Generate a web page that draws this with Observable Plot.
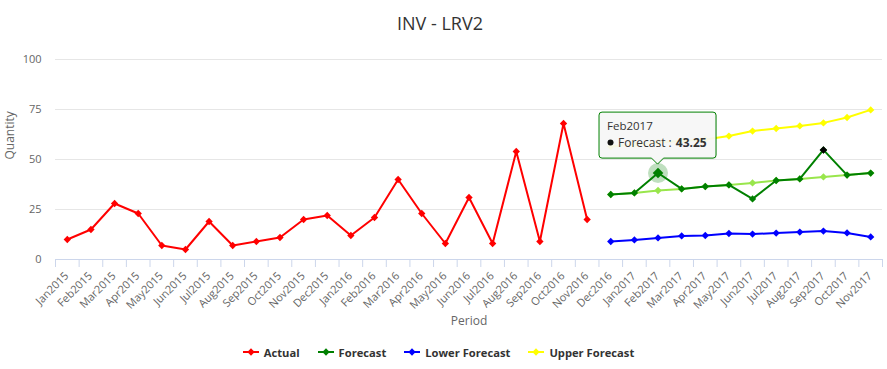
<!DOCTYPE html>
<html>
<head>
<meta charset="utf-8">
<script src="https://cdn.jsdelivr.net/npm/d3@7"></script>
<script src="https://cdn.jsdelivr.net/npm/@observablehq/plot@0.6"></script>
<style>
  html, body { margin: 0; padding: 0; background: #fff; }
  #wrap { position: relative; width: 887px; height: 369px; overflow: hidden; font-family: "Open Sans", sans-serif; }
  #title { position: absolute; left: 0; top: 0; width: 880px; height: 45px; text-align: center; font-size: 18px; line-height: 22px; padding-top: 12px; box-sizing: border-box; color: #333; }
  #chart { position: absolute; left: 0; top: 45px; }
  #legend { position: absolute; left: 0; top: 335px; width: 877px; height: 34px; display: flex; justify-content: center; align-items: center; gap: 18px; font-size: 11.2px; font-weight: bold; color: #333; }
  .item { display: flex; align-items: center; gap: 5px; }
</style>
</head>
<body>
<div id="wrap">
  <div id="title">INV - LRV2</div>
  <div id="chart"></div>
  <div id="legend"></div>
</div>
<script>
// ---- data ----
const categories = ["Jan2015","Feb2015","Mar2015","Apr2015","May2015","Jun2015","Jul2015","Aug2015","Sep2015","Oct2015","Nov2015","Dec2015",
  "Jan2016","Feb2016","Mar2016","Apr2016","May2016","Jun2016","Jul2016","Aug2016","Sep2016","Oct2016","Nov2016","Dec2016",
  "Jan2017","Feb2017","Mar2017","Apr2017","May2017","Jun2017","Jul2017","Aug2017","Sep2017","Oct2017","Nov2017"];
const actual = [10,15,28,23,7,5,19,7,9,11,20,22,12,21,40,23,8,31,8,54,9,68,20];           // Jan2015..Nov2016
const forecastStart = "Dec2016";
const forecast = [32.5,33.3,43.25,35.3,36.5,37.3,30.3,39.5,40.3,54.8,42.2,43.2];           // Dec2016..Nov2017
const lowerForecast = [9,9.8,10.8,11.8,12,13,12.7,13.2,13.7,14.2,13.3,11.3];
const upperForecast = [56.5,57.5,58.5,59.2,60,61.7,64.2,65.5,66.8,68.3,71,74.8];
const trend = [32.5,33.3,34.5,35.3,36.5,37.3,38.3,39.5,40.3,41.3,42.2,43.2];
const yTicks = [0,25,50,75,100];
const seriesNames = ["Actual","Forecast","Lower Forecast","Upper Forecast"];
const hoverCategory = "Feb2017";
const blackCategory = "Sep2017";

// ---- styles ----
const colors = {"Actual":"#ff0000","Forecast":"#008000","Lower Forecast":"#0000ff","Upper Forecast":"#ffff00","Trend":"#99e64c"};

const start = categories.indexOf(forecastStart);
function rows(name, vals, offset) {
  return vals.map((v, k) => ({series: name, i: offset + k, cat: categories[offset + k], v}));
}
const actualRows = rows("Actual", actual, 0);
const fRows = rows("Forecast", forecast, start);
const lRows = rows("Lower Forecast", lowerForecast, start);
const uRows = rows("Upper Forecast", upperForecast, start);
const tRows = rows("Trend", trend, start);
const boundaries = d3.range(categories.length + 1).map(i => i - 0.5);

function seriesMarks(data, color) {
  return [
    Plot.line(data, {x: "i", y: "v", stroke: color, strokeWidth: 2}),
    Plot.dot(data, {x: "i", y: "v", symbol: "diamond2", r: 3.3, fill: color, stroke: null})
  ];
}
const hoverRow = fRows.filter(d => d.cat === hoverCategory);
const blackRow = fRows.filter(d => d.cat === blackCategory);

const chart = Plot.plot({
  width: 887, height: 290,
  marginLeft: 55, marginRight: 5, marginTop: 14, marginBottom: 76,
  style: {fontFamily: "'Open Sans', sans-serif", background: "transparent", color: "#666", overflow: "visible"},
  x: {type: "linear", domain: [-0.5, categories.length - 0.5], axis: null},
  y: {domain: [0, 100], axis: null},
  marks: [
    Plot.gridY(yTicks, {stroke: "#e6e6e6", strokeOpacity: 1, strokeWidth: 1}),
    Plot.axisY(yTicks, {tickSize: 0, tickPadding: 14, fontSize: 11, label: null}),
    Plot.ruleY([0], {stroke: "#ccd6eb"}),
    Plot.ruleX(boundaries, {x: d => d, y1: 0, y2: -4, stroke: "#ccd6eb"}),
    Plot.text(categories, {x: (d, i) => i, frameAnchor: "bottom", dy: 17, dx: 2, rotate: -45, textAnchor: "end", lineAnchor: "bottom", fontSize: 11, fill: "#666"}),
    Plot.text(["Period"], {frameAnchor: "bottom", dy: 65, lineAnchor: "bottom", fontSize: 12, fill: "#666"}),
    Plot.text(["Quantity"], {frameAnchor: "left", dx: -42, rotate: -90, lineAnchor: "bottom", fontSize: 12, fill: "#666"}),
    ...seriesMarks(tRows, colors["Trend"]),
    ...seriesMarks(actualRows, colors["Actual"]),
    ...seriesMarks(fRows, colors["Forecast"]),
    ...seriesMarks(lRows, colors["Lower Forecast"]),
    ...seriesMarks(uRows, colors["Upper Forecast"]),
    Plot.dot(blackRow, {x: "i", y: "v", symbol: "diamond2", r: 3.4, fill: "#000"}),
    Plot.dot(hoverRow, {x: "i", y: "v", r: 10, fill: colors["Forecast"], fillOpacity: 0.25}),
    Plot.dot(hoverRow, {x: "i", y: "v", symbol: "diamond2", r: 4.8, fill: colors["Forecast"]})
  ]
});
document.getElementById("chart").appendChild(chart);

// ---- tooltip anchored to hovered point via scales ----
const h = hoverRow[0];
const px = chart.scale("x").apply(h.i), py = chart.scale("y").apply(h.v);
const bw = 117, bh = 46, r = 3;
const bl = px - bw / 2, br = px + bw / 2, bb = py - 14.4, bt = bb - bh, tip = py - 8.4;
const svg = d3.select(chart);
const g = svg.append("g").attr("text-anchor", "start");
const path = `M${bl + r},${bt} L${br - r},${bt} Q${br},${bt} ${br},${bt + r} L${br},${bb - r} Q${br},${bb} ${br - r},${bb} L${px + 6},${bb} L${px},${tip} L${px - 6},${bb} L${bl + r},${bb} Q${bl},${bb} ${bl},${bb - r} L${bl},${bt + r} Q${bl},${bt} ${bl + r},${bt} Z`;
g.append("path").attr("d", path).attr("fill", "rgba(0,0,0,0.06)").attr("transform", "translate(1,1)");
g.append("path").attr("d", path).attr("fill", "rgba(247,247,247,0.92)").attr("stroke", colors["Forecast"]).attr("stroke-width", 1);
g.append("text").attr("x", bl + 8).attr("y", bt + 18).attr("text-anchor", "start").attr("font-size", 11.5).attr("fill", "#333").text(h.cat);
g.append("circle").attr("cx", bl + 11.5).attr("cy", bt + 30.5).attr("r", 3).attr("fill", "#111");
const lab = g.append("text").attr("x", bl + 19).attr("y", bt + 34.5).attr("text-anchor", "start").attr("font-size", 12).attr("fill", "#333").text(h.series + " :");
const lw = lab.node().getComputedTextLength();
g.append("text").attr("x", bl + 19 + lw + 4).attr("y", bt + 34.5).attr("text-anchor", "start").attr("font-size", 12).attr("font-weight", "bold").attr("fill", "#333").text(h.v.toFixed(2));

// ---- legend ----
const legend = d3.select("#legend");
for (const name of seriesNames) {
  const it = legend.append("div").attr("class", "item");
  const s = it.append("svg").attr("width", 16).attr("height", 12);
  s.append("line").attr("x1", 0).attr("x2", 16).attr("y1", 6).attr("y2", 6).attr("stroke", colors[name]).attr("stroke-width", 2);
  s.append("path").attr("d", d3.symbol(d3.symbolDiamond2, Math.PI * 3.3 * 3.3)()).attr("transform", "translate(8,6)").attr("fill", colors[name]);
  it.append("span").text(name);
}
</script>
</body>
</html>
